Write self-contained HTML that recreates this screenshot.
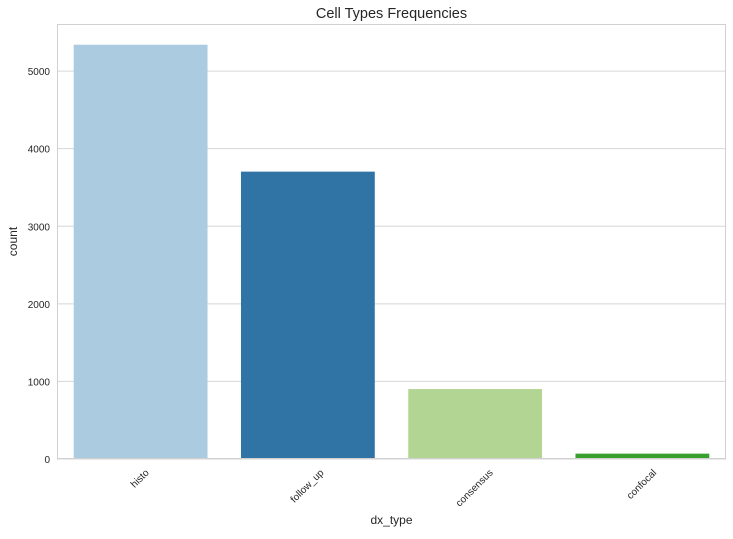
<!DOCTYPE html>
<html><head><meta charset="utf-8"><style>
body{margin:0;background:#fff;font-family:"Liberation Sans","DejaVu Sans",sans-serif;}
</style></head><body>
<svg id="chart" width="733" height="534" xmlns="http://www.w3.org/2000/svg"></svg>
<script>
const categories=["histo","follow_up","consensus","confocal"];
const counts=[5340,3704,902,69];
const colors=["#abcce0","#2f74a4","#b3d594","#37a02f"];
const yTicks=[0,1000,2000,3000,4000,5000];
const yMax=5607;
const L=57,R=726,T=24,B=459;
const svg=document.getElementById('chart');
const NS="http://www.w3.org/2000/svg";
function y(v){return B-(v/yMax)*(B-T);}
const band=(R-L)/categories.length;
function x(i){return L+band*i+band*0.1;}
function mk(t,a,txt){const e=document.createElementNS(NS,t);for(const k in a)e.setAttribute(k,a[k]);if(txt!==undefined)e.textContent=txt;svg.appendChild(e);return e;}
yTicks.forEach(v=>{
 const g=mk('line',{x1:L,x2:R,y1:y(v),y2:y(v),stroke:'#d6d6d6','stroke-width':1});
 
 
 const t=mk('text',{x:L-7,y:y(v)+4,'text-anchor':'end','font-size':10,fill:'#262626'},v);
 
 
});
categories.forEach((c,i)=>{
 const r=mk('rect',{x:x(i),y:y(counts[i]),width:band*0.8,height:B-y(counts[i]),fill:colors[i]});
 
 
 const cx=L+band*(i+0.5)-1;
 const t=mk('text',{x:cx,y:0,'text-anchor':'middle','font-size':10,fill:'#262626'},c);
 
 
 const w=t.getComputedTextLength();
 const h=8;
 const cy=B+9+(w+h)*0.7071/2;
 t.setAttribute('y',cy+3.5);
 t.setAttribute('transform',`rotate(-45 ${cx} ${cy})`);
});
const f=mk('rect',{x:L+0.5,y:T+0.5,width:R-L-1,height:B-T-1,fill:'none',stroke:'#d0d0d0','stroke-width':1});


const ti=mk('text',{x:(L+R)/2,y:18,'text-anchor':'middle','font-size':14.5,fill:'#262626'},'Cell Types Frequencies');


const xl=mk('text',{x:(L+R)/2,y:524,'text-anchor':'middle','font-size':12,fill:'#262626'},'dx_type');


const yl=mk('text',{x:17,y:(T+B)/2,'text-anchor':'middle','font-size':12,fill:'#262626',transform:`rotate(-90 17 ${(T+B)/2})`},'count');


</script>
</body></html>
